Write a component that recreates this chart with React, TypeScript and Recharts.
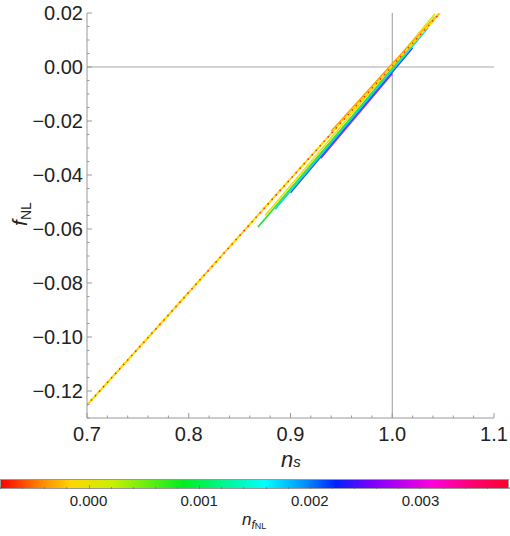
import { LineChart, Line, XAxis, YAxis, ReferenceLine } from 'recharts';

const FONT = '"Liberation Sans", Arial, sans-serif';

// axis ticks
const xMajor = [0.7, 0.8, 0.9, 1.0, 1.1];
const yMajor = [-0.12, -0.1, -0.08, -0.06, -0.04, -0.02, 0, 0.02];
const xTicks = Array.from({ length: 21 }, (_, i) => +(0.7 + i * 0.02).toFixed(3));
const yTicks = Array.from({ length: 31 }, (_, i) => +(-0.13 + i * 0.005).toFixed(3));

// colour bar
const barTicks = [0, 0.001, 0.002, 0.003];
const barMin = -0.0008;
const barMax = 0.0038;
const barStops = [
  { v: 0, c: '#ff0000' },
  { v: 8, c: '#ff8a00' },
  { v: 14, c: '#ffd800' },
  { v: 22, c: '#c8f000' },
  { v: 36, c: '#00ee22' },
  { v: 52, c: '#00ffff' },
  { v: 60, c: '#0090ff' },
  { v: 66, c: '#0022ff' },
  { v: 73, c: '#7a00ff' },
  { v: 85, c: '#ff00dd' },
  { v: 93, c: '#ff0070' },
  { v: 100, c: '#ff0030' },
];

// long thin strand (n_fNL ~ 0.000, dashed red over yellow)
const mainLine = [
  { x: 0.7, y: -0.1252 },
  { x: 0.7816, y: -0.0912 },
  { x: 0.952, y: -0.0196 },
  { x: 1.047, y: 0.02 },
];

// the wider coloured band
const bandOrange = [
  { x: 0.94, y: -0.0238 },
  { x: 1.0, y: 0.0012 },
  { x: 1.046, y: 0.0199 },
];
const bandYellow = [
  { x: 0.875, y: -0.055 },
  { x: 0.96, y: -0.0174 },
  { x: 1.042, y: 0.0197 },
];
const bandGreen = [
  { x: 0.868, y: -0.0593 },
  { x: 0.96, y: -0.0185 },
  { x: 1.042, y: 0.0185 },
];
const bandCyan = [
  { x: 0.885, y: -0.0527 },
  { x: 1.035, y: 0.0144 },
];
const bandBlue = [
  { x: 0.9, y: -0.0466 },
  { x: 1.02, y: 0.007 },
];
const bandPurple = [
  { x: 0.93, y: -0.0338 },
  { x: 1.0, y: -0.0025 },
];

const near = (v: number, arr: number[]) => arr.some((a) => Math.abs(a - v) < 1e-9);
const minus = (s: string) => s.replace('-', '\u2212');

const BottomTick = (p: any) => {
  const major = near(p.payload.value, xMajor);
  return (
    <g>
      <line x1={p.x} x2={p.x} y1={p.y} y2={p.y - (major ? 5 : 2.5)} stroke="#999" />
      {major && (
        <text x={p.x} y={p.y + 23} textAnchor="middle" fontSize={20} fill="#222" fontFamily={FONT}>
          {p.payload.value.toFixed(1)}
        </text>
      )}
    </g>
  );
};

const TopTick = (p: any) => {
  const major = near(p.payload.value, xMajor);
  return <line x1={p.x} x2={p.x} y1={p.y} y2={p.y + (major ? 5 : 2.5)} stroke="#999" />;
};

const LeftTick = (p: any) => {
  const major = near(p.payload.value, yMajor);
  return (
    <g>
      <line x1={p.x} x2={p.x + (major ? 5 : 2.5)} y1={p.y} y2={p.y} stroke="#999" />
      {major && (
        <text x={p.x - 4} y={p.y + 7} textAnchor="end" fontSize={20} fill="#222" fontFamily={FONT}>
          {minus(p.payload.value.toFixed(2))}
        </text>
      )}
    </g>
  );
};

const RightTick = (p: any) => {
  const major = near(p.payload.value, yMajor);
  return <line x1={p.x} x2={p.x - (major ? 5 : 2.5)} y1={p.y} y2={p.y} stroke="#999" />;
};

const band = (data: any[], color: string, w = 1.6) => (
  <Line data={data} dataKey="y" type="linear" stroke={color} strokeWidth={w} dot={false} isAnimationActive={false} />
);

export default function App() {
  const barW = 509;
  const toBar = (v: number) => ((v - barMin) / (barMax - barMin)) * barW;
  const grad = `linear-gradient(to right, ${barStops.map((s) => `${s.c} ${s.v}%`).join(', ')})`;
  const barMinor = Array.from({ length: 24 }, (_, i) => +(-0.0008 + i * 0.0002).toFixed(4));

  return (
    <div style={{ position: 'absolute', left: 0, top: 0, width: 510, height: 536, background: '#fff', fontFamily: FONT }}>
      <LineChart width={510} height={470} margin={{ top: 13, right: 16, bottom: 0, left: 0 }}>
        <XAxis dataKey="x" type="number" domain={[0.7, 1.1]} ticks={xTicks} interval={0} height={52}
          tickSize={0} tickMargin={0} tickLine={false} stroke="#999" tick={BottomTick} allowDataOverflow />
        <XAxis xAxisId="top" orientation="top" dataKey="x" type="number" domain={[0.7, 1.1]} ticks={xTicks} interval={0} height={0}
          tickSize={0} tickMargin={0} tickLine={false} stroke="#999" tick={TopTick} allowDataOverflow />
        <YAxis type="number" domain={[-0.13, 0.02]} ticks={yTicks} interval={0} width={87}
          tickSize={0} tickMargin={0} tickLine={false} stroke="#999" tick={LeftTick} allowDataOverflow />
        <YAxis yAxisId="right" orientation="right" type="number" domain={[-0.13, 0.02]} ticks={yTicks} interval={0} width={0}
          tickSize={0} tickMargin={0} tickLine={false} stroke="#999" tick={RightTick} allowDataOverflow />
        <ReferenceLine y={0} stroke="#c4c4c4" strokeWidth={1.6} />
        <ReferenceLine x={1} stroke="#999" strokeWidth={1} />
        {band(bandPurple, '#9a30ff', 1.2)}
        {band(bandBlue, '#2848ff', 1.5)}
        {band(bandCyan, '#00d8e8', 1.5)}
        {band(bandGreen, '#30e040', 1.6)}
        {band(bandYellow, '#e8e000', 1.6)}
        {band(bandOrange, '#ff9a00', 1.6)}
        <Line data={mainLine} dataKey="y" type="linear" stroke="#ffd800" strokeWidth={2} dot={false} isAnimationActive={false} />
        <Line data={mainLine} dataKey="y" type="linear" stroke="#ff3000" strokeWidth={1.5} strokeDasharray="1.5 4.5" dot={false} isAnimationActive={false} />
      </LineChart>

      <div style={{ position: 'absolute', left: 281, top: 447, fontSize: 22, fontStyle: 'italic', color: '#222' }}>
        n<span style={{ fontSize: 15 }}>s</span>
      </div>
      <div style={{ position: 'absolute', left: 20, top: 214, transform: 'translate(-50%, -50%) rotate(-90deg)', fontSize: 21, fontStyle: 'italic', color: '#222', whiteSpace: 'nowrap' }}>
        f<span style={{ fontSize: 14, fontStyle: 'normal', position: 'relative', top: 4 }}>NL</span>
      </div>

      <div style={{ position: 'absolute', left: 0, top: 479, width: barW, height: 10, background: grad, border: '1px solid #999', boxSizing: 'border-box' }} />
      {barMinor.map((t) => (
        <div key={t} style={{ position: 'absolute', left: toBar(t), top: near(t, barTicks) ? 485 : 487, width: 1, height: near(t, barTicks) ? 4 : 2, background: 'rgba(90,90,90,0.5)' }} />
      ))}
      {barTicks.map((t) => (
        <div key={t} style={{ position: 'absolute', left: toBar(t) - 30, top: 492, width: 60, textAlign: 'center', fontSize: 15, color: '#222' }}>
          {t.toFixed(3)}
        </div>
      ))}
      <div style={{ position: 'absolute', left: 242, top: 510, fontSize: 17, fontStyle: 'italic', color: '#222', whiteSpace: 'nowrap' }}>
        n<span style={{ fontSize: 12, position: 'relative', top: 4 }}>f<span style={{ fontSize: 9, fontStyle: 'normal' }}>NL</span></span>
      </div>
    </div>
  );
}
